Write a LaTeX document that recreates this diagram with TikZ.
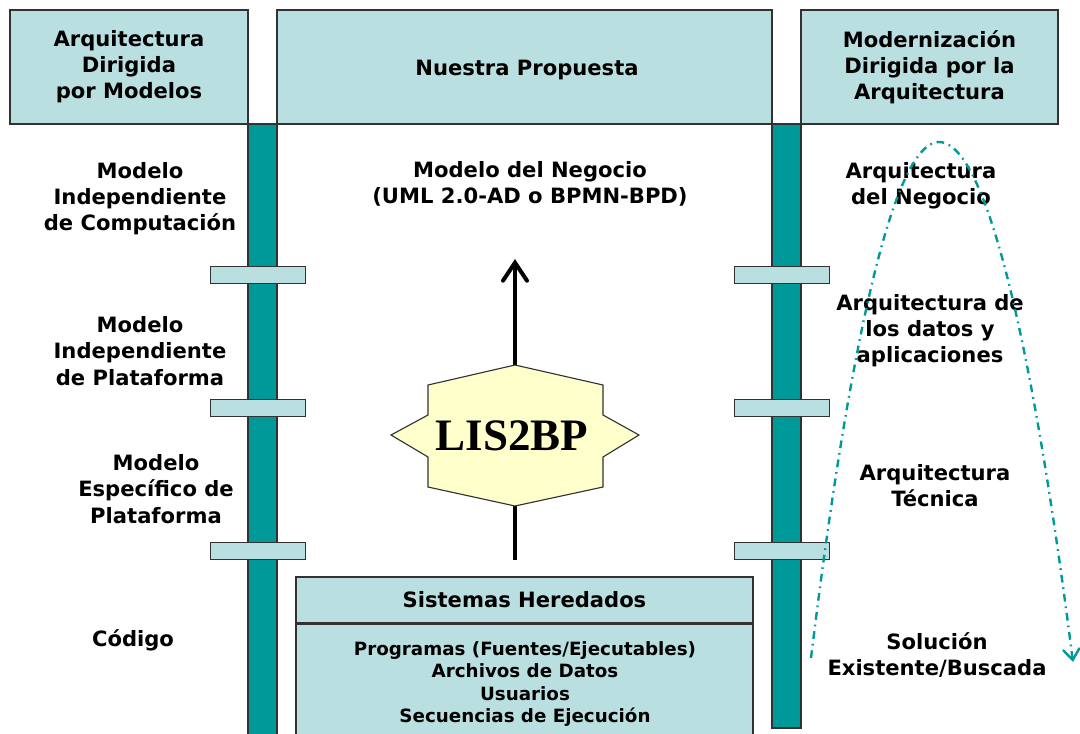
\documentclass[tikz,border=0pt]{standalone}
\usepackage{fontspec}
\setmainfont{DejaVu Sans}
\newfontfamily\logofont{Liberation Serif}
\usepackage{tikz}
\usetikzlibrary{positioning, calc, arrows.meta}
\definecolor{boxblue}{RGB}{186,223,225}
\definecolor{railteal}{RGB}{0,153,153}
\definecolor{edgegray}{RGB}{50,50,50}
\definecolor{starfill}{RGB}{255,255,204}
\tikzstyle{Box} = [
	draw=edgegray, fill=boxblue, line width=0.9pt,
	inner sep=0pt, align=center,
	font=\bfseries\fontsize{15}{18.4}\selectfont
	]
\tikzstyle{Rung} = [
	draw=edgegray, fill=boxblue, line width=0.9pt,
	minimum width=2.375cm, minimum height=0.425cm, inner sep=0pt
	]
\tikzstyle{Rail} = [draw=edgegray, fill=railteal, line width=0.9pt]
\tikzstyle{Label} = [align=center, font=\bfseries\fontsize{15}{18.6}\selectfont]
\tikzstyle{Arrow} = [
	line width=2.9pt,
	-{Straight Barb[length=0.45cm, width=0.6cm, line cap=round]}
	]
\tikzstyle{Path} = [
	railteal, line width=1.7pt,
	dash pattern=on 5.5pt off 3.5pt on 1.2pt off 3.5pt,
	-{Straight Barb[length=0.28cm, width=0.42cm]}
	]

\begin{document}
\begin{tikzpicture}[x=0.025cm, y=-0.025cm]
	\useasboundingbox (0,0) rectangle (1080,733);
	%rails:
		\draw[Rail] (248,124) rectangle (277,745);
		\draw[Rail] (772,124) rectangle (801,728);
	%headers:
		\node [Box, minimum width=5.95cm, minimum height=2.85cm] (mda) at (129,67) {Arquitectura\\Dirigida\\por Modelos};
		\node [Box, minimum width=12.375cm, minimum height=2.85cm] (ours) at (524.5,67) {};
		\node [Label] (oursText) at (527,70) {Nuestra Propuesta};
		\node [Box, minimum width=6.425cm, minimum height=2.85cm] (adm) at (929.5,67) {Modernización\\Dirigida por la\\Arquitectura};
	%rungs:
		\foreach \y [count=\i] in {275, 408, 551} {
			\node [Rung] (lrung\i) at (258,\y) {};
			\node [Rung] (rrung\i) at (782,\y) {};
		}
	%left levels:
		\node [Label] (cim) at (140,199) {Modelo\\Independiente\\de Computación};
		\node [Label] (pim) at (140,351) {Modelo\\Independiente\\de Plataforma};
		\node [Label] (psm) at (156,489) {Modelo\\Específico de\\Plataforma};
		\node [Label] (code) at (133,640) {Código};
	%right levels:
		\node [Label] (bizarch) at (921,186) {Arquitectura\\del Negocio};
		\node [Label] (dataarch) at (930,331) {Arquitectura de\\los datos y\\aplicaciones};
		\node [Label] (techarch) at (935,486) {Arquitectura\\Técnica};
		\node [Label] (solution) at (937,655) {Solución\\Existente/Buscada};
	%middle:
		\node [Label] (bizmodel) at (530,184) {Modelo del Negocio\\(UML 2.0-AD o BPMN-BPD)};
		\node [Box, minimum width=11.425cm, minimum height=1.15cm] (legacy) at (524.5,600) {Sistemas Heredados};
		\node [Box, minimum width=11.425cm, minimum height=3.05cm, below=0pt of legacy] (assets) {};
		\node [Label, font=\bfseries\fontsize{13}{15.8}\selectfont] (assetsText) at (525,684)
			{Programas (Fuentes/Ejecutables)\\Archivos de Datos\\Usuarios\\Secuencias de Ejecución};
	%edges:
		\coordinate (foot) at (515,560);
		\coordinate (tip) at (515,259);
		\draw[Arrow] (foot) -- (tip);
		\coordinate (pathstart) at (811,658);
		\coordinate (pathtop) at (939,142);
		\coordinate (pathend) at (1073,662);
		\draw[Path] (pathstart) parabola bend (pathtop) (pathend);
	%star:
		\draw[draw=edgegray, fill=starfill, line width=0.8pt]
			(515,365) -- (603,385) -- (603,415) -- (639,435) -- (603,457)
			-- (603,487) -- (515,506) -- (428,487) -- (428,457) -- (391,435)
			-- (428,415) -- (428,385) -- cycle;
		\node [font=\logofont\bfseries\fontsize{32}{32}\selectfont] (lis) at (512,436) {LIS2BP};
\end{tikzpicture}
\end{document}
